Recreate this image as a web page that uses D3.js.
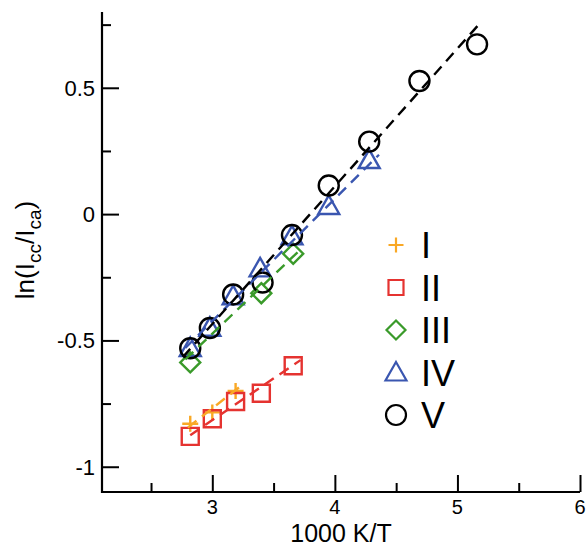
<!DOCTYPE html>
<html>
<head>
<meta charset="utf-8">
<script src="https://cdn.jsdelivr.net/npm/d3@7"></script>
<style>
  body { margin: 0; background: #fff; }
  text { font-family: 'Liberation Sans', Arial, sans-serif; fill: #000; }
</style>
</head>
<body>
<div id="chart"></div>
<script>
// values
var seriesNames = ['I', 'II', 'III', 'IV', 'V']
var seriesColors = ['#f9a825', '#e53330', '#3a9a2a', '#3a56b0', '#000000']
var seriesSymbols = ['plus', 'square', 'diamond', 'triangle', 'circle']

var xI = [2.82, 3.0, 3.19]
var yI = [-0.83, -0.785, -0.70]
var xII = [2.82, 3.0, 3.19, 3.40, 3.66]
var yII = [-0.88, -0.81, -0.742, -0.709, -0.60]
var xIII = [2.82, 3.40, 3.66]
var yIII = [-0.587, -0.313, -0.157]
var xIV = [2.82, 2.98, 3.17, 3.39, 3.65, 3.95, 4.28]
var yIV = [-0.53, -0.45, -0.325, -0.215, -0.088, 0.032, 0.214]
var xV = [2.82, 2.98, 3.17, 3.41, 3.65, 3.95, 4.28, 4.69, 5.16]
var yV = [-0.531, -0.451, -0.318, -0.271, -0.083, 0.113, 0.287, 0.527, 0.672]

// dashed fit lines: [x0, y0, x1, y1]
var fitI = [2.80, -0.845, 3.22, -0.685]
var fitII = [2.82, -0.875, 3.72, -0.578]
var fitIII = [2.78, -0.575, 3.72, -0.14]
var fitIV = [2.78, -0.53, 4.36, 0.235]
var fitV = [2.76, -0.566, 5.17, 0.748]

var xTicks = [3, 4, 5, 6]
var xMinor = [2.5, 3.5, 4.5, 5.5]
var yTicks = [-1, -0.5, 0, 0.5]
var yMinor = [-0.75, -0.25, 0.25, 0.75]

var W = 588
var H = 548
var margin = { left: 102, right: 8, top: 12, bottom: 56 }

var svg = d3.select('#chart').append('svg')
  .attr('width', W)
  .attr('height', H)

var x = d3.scaleLinear().domain([2.1, 6]).range([margin.left, W - margin.right])
var y = d3.scaleLinear().domain([-1.1, 0.8]).range([H - margin.bottom, margin.top])

var series = [
  { x: xI, y: yI, fit: fitI },
  { x: xII, y: yII, fit: fitII },
  { x: xIII, y: yIII, fit: fitIII },
  { x: xIV, y: yIV, fit: fitIV },
  { x: xV, y: yV, fit: fitV }
]

// axes, ticks pointing inward
var xAxis = svg.append('g')
  .attr('transform', 'translate(0,' + y.range()[0] + ')')
  .call(d3.axisTop(x).tickValues(xTicks).tickSize(17).tickFormat(''))
xAxis.append('g').call(d3.axisTop(x).tickValues(xMinor).tickSize(9).tickFormat(''))

var yAxis = svg.append('g')
  .attr('transform', 'translate(' + x.range()[0] + ',0)')
  .call(d3.axisRight(y).tickValues(yTicks).tickSize(17).tickFormat(''))
yAxis.append('g').call(d3.axisRight(y).tickValues(yMinor).tickSize(9).tickFormat(''))

svg.selectAll('.domain').remove()
svg.selectAll('.tick line').attr('stroke', '#000').attr('stroke-width', 2)
svg.append('path')
  .attr('d', 'M' + x.range()[0] + ',' + y.range()[1] + 'V' + y.range()[0] + 'H' + x.range()[1])
  .attr('fill', 'none')
  .attr('stroke', '#000').attr('stroke-width', 2.2)

// tick labels
svg.selectAll('.xlab').data(xTicks).enter().append('text')
  .attr('x', function(d) { return x(d) })
  .attr('y', 514)
  .attr('text-anchor', 'middle')
  .style('font-size', '20px')
  .text(function(d) { return d })

svg.selectAll('.ylab').data(yTicks).enter().append('text')
  .attr('x', 95)
  .attr('y', function(d) { return y(d) + 8 })
  .attr('text-anchor', 'end')
  .style('font-size', '22px')
  .text(function(d) { return d })

// axis titles
svg.append('text')
  .attr('x', x(4.05))
  .attr('y', 542)
  .attr('text-anchor', 'middle')
  .style('font-size', '25px')
  .text('1000 K/T')

var yt = svg.append('text')
  .attr('transform', 'translate(34,250) rotate(-90)')
  .attr('text-anchor', 'middle')
  .style('font-size', '26px')
yt.append('tspan').text('ln(I')
yt.append('tspan').attr('dy', 7).style('font-size', '19px').text('cc')
yt.append('tspan').attr('dy', -7).text('/I')
yt.append('tspan').attr('dy', 7).style('font-size', '19px').text('ca')
yt.append('tspan').attr('dy', -7).text(')')

// symbol paths
function symbolPath(type, s) {
  if (type === 'plus') return 'M' + -s + ',0H' + s + 'M0,' + -s + 'V' + s
  if (type === 'square') return 'M' + -s + ',' + -s + 'H' + s + 'V' + s + 'H' + -s + 'Z'
  if (type === 'diamond') return 'M0,' + -s + 'L' + s + ',0L0,' + s + 'L' + -s + ',0Z'
  if (type === 'triangle') return 'M0,' + (-s * 1.05) + 'L' + (s * 1.05) + ',' + (s * 0.8) + 'L' + (-s * 1.05) + ',' + (s * 0.8) + 'Z'
  return d3.arc()({ innerRadius: 0, outerRadius: s, startAngle: 0, endAngle: 2 * Math.PI })
}
var plotSize = [8, 8.5, 10, 10, 10]
var legendSize = [7.5, 7.5, 9.5, 10, 10]

var plot = svg.append('g')

// markers
series.forEach(function(s, i) {
  var pts = s.x.map(function(v, j) { return [v, s.y[j]] })
  plot.append('g').selectAll('path').data(pts).enter().append('path')
    .attr('transform', function(d) { return 'translate(' + x(d[0]) + ',' + y(d[1]) + ')' })
    .attr('d', symbolPath(seriesSymbols[i], plotSize[i]))
    .attr('fill', 'none')
    .attr('stroke', seriesColors[i])
    .attr('stroke-width', 2.4)
})

// dashed fit lines
var line = d3.line().x(function(d) { return x(d[0]) }).y(function(d) { return y(d[1]) })
series.forEach(function(s, i) {
  var f = s.fit
  plot.append('path')
    .attr('d', line([[f[0], f[1]], [f[2], f[3]]]))
    .attr('fill', 'none')
    .attr('stroke', seriesColors[i])
    .attr('stroke-width', 2.4)
    .attr('stroke-dasharray', '11,7')
})

// legend
var legendY = d3.scalePoint().domain(seriesNames).range([245, 415])
var legend = svg.append('g')
seriesNames.forEach(function(name, i) {
  legend.append('path')
    .attr('transform', 'translate(396,' + legendY(name) + ')')
    .attr('d', symbolPath(seriesSymbols[i], legendSize[i]))
    .attr('fill', 'none')
    .attr('stroke', seriesColors[i])
    .attr('stroke-width', 2.2)
  legend.append('text')
    .attr('x', 421)
    .attr('y', legendY(name) + 13)
    .style('font-size', '36px')
    .text(name)
})
</script>
</body>
</html>
